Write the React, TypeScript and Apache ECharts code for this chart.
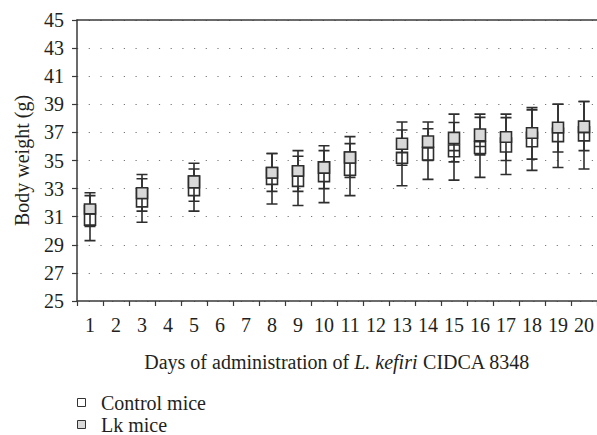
import React, { useEffect, useRef } from "react";
import * as echarts from "echarts";

const days = ["1","2","3","4","5","6","7","8","9","10","11","12","13","14","15","16","17","18","19","20"];
const yTicks = [25, 27, 29, 31, 33, 35, 37, 39, 41, 43, 45];
const seriesNames = ["Control mice", "Lk mice"];
const seriesFills = ["#ffffff", "#d9d9d9"];

// [day, min, Q1, median, Q3, max]
const controlMice: (string | number)[][] = [
  ["1", 29.3, 30.4, 31.2, 31.8, 32.5],
  ["3", 30.6, 31.7, 32.3, 33.0, 33.7],
  ["5", 31.4, 32.5, 33.06, 33.9, 34.4],
  ["8", 31.9, 33.3, 33.75, 34.5, 35.5],
  ["9", 31.8, 33.16, 33.88, 34.6, 35.3],
  ["10", 32.0, 33.5, 34.1, 34.9, 35.7],
  ["11", 32.5, 33.95, 34.82, 35.6, 36.2],
  ["13", 33.2, 34.8, 35.55, 35.58, 37.17],
  ["14", 33.66, 35.04, 35.9, 35.94, 37.26],
  ["15", 33.6, 35.27, 35.7, 36.1, 37.7],
  ["16", 33.8, 35.5, 36.0, 36.34, 38.07],
  ["17", 34.0, 35.6, 36.3, 36.6, 38.05],
  ["18", 34.3, 35.98, 36.58, 37.0, 38.6],
  ["19", 34.5, 36.34, 36.98, 37.3, 39.0],
  ["20", 34.4, 36.4, 37.0, 37.4, 39.2],
];

const lkMice: (string | number)[][] = [
  ["1", 30.3, 31.2, 31.2, 31.9, 32.7],
  ["3", 31.4, 32.3, 32.3, 33.06, 34.0],
  ["5", 32.1, 33.06, 33.06, 33.9, 34.8],
  ["8", 32.8, 33.75, 33.75, 34.5, 35.5],
  ["9", 32.8, 33.9, 33.9, 34.63, 35.7],
  ["10", 33.0, 34.1, 34.1, 34.9, 36.05],
  ["11", 33.8, 34.82, 34.82, 35.6, 36.7],
  ["13", 34.66, 35.8, 35.8, 36.58, 37.74],
  ["14", 35.0, 35.94, 35.94, 36.74, 37.74],
  ["15", 34.9, 36.2, 36.2, 37.0, 38.3],
  ["16", 35.4, 36.4, 36.4, 37.24, 38.3],
  ["17", 35.0, 36.3, 36.3, 37.05, 38.3],
  ["18", 35.1, 36.58, 36.58, 37.33, 38.76],
  ["19", 35.6, 36.98, 36.98, 37.72, 39.0],
  ["20", 35.7, 37.0, 37.0, 37.8, 39.2],
];

const FONT = "'Liberation Serif', 'DejaVu Serif', serif";
const FS = 20;
const TEXT = "#231f20";
const AXIS = "#3a3a3a";

export default function App() {
  const ref = useRef<HTMLDivElement>(null);
  useEffect(() => {
    if (!ref.current) return;
    const chart = echarts.init(ref.current, null, { renderer: "svg" });
    const legendGraphics: any[] = [];
    seriesNames.forEach((name, i) => {
      const cy = 403 + i * 22;
      legendGraphics.push({
        type: "rect",
        shape: { x: 77.5, y: cy - 4.5, width: 8, height: 8 },
        style: { fill: seriesFills[i], stroke: "#333", lineWidth: 1 },
        silent: true,
      });
      legendGraphics.push({
        type: "text",
        x: 101,
        y: cy,
        style: {
          text: name,
          font: `${FS}px ${FONT}`,
          fontFamily: FONT,
          fontSize: FS,
          fill: TEXT,
          verticalAlign: "middle",
          align: "left",
        },
        silent: true,
      });
    });
    chart.setOption({
      animation: false,
      backgroundColor: "#fff",
      grid: { left: 77, top: 20, width: 524, height: 281, containLabel: false },
      graphic: legendGraphics,
      xAxis: [
        {
          type: "category",
          data: days,
          position: "bottom",
          boundaryGap: true,
          axisLine: { show: true, lineStyle: { color: AXIS, width: 1.5 } },
          axisTick: { show: true, length: 5, inside: false, lineStyle: { color: AXIS, width: 1.2 } },
          axisLabel: { fontFamily: FONT, fontSize: FS, color: TEXT, margin: 14, interval: 0 },
          splitLine: { show: false },
          name: "Days of administration of {i|L. kefiri} CIDCA 8348",
          nameLocation: "middle",
          nameGap: 51,
          nameTextStyle: {
            fontFamily: FONT,
            fontSize: FS,
            color: TEXT,
            rich: { i: { fontFamily: FONT, fontSize: FS, color: TEXT, fontStyle: "italic" } },
          },
        },
        {
          type: "category",
          data: days,
          position: "top",
          boundaryGap: true,
          axisLine: { show: true, lineStyle: { color: AXIS, width: 1.5 } },
          axisTick: { show: false },
          axisLabel: { show: false },
          splitLine: { show: false },
        },
      ],
      yAxis: {
        type: "value",
        min: yTicks[0],
        max: yTicks[yTicks.length - 1],
        interval: 2,
        axisLine: { show: true, lineStyle: { color: AXIS, width: 1.5 } },
        axisTick: { show: true, length: 5, lineStyle: { color: AXIS, width: 1.2 } },
        axisLabel: { fontFamily: FONT, fontSize: FS, color: TEXT, margin: 13 },
        splitLine: { show: true, lineStyle: { color: "#777", width: 1.2, type: [1.2, 10.5] } },
        name: "Body weight (g)",
        nameLocation: "middle",
        nameGap: 45,
        nameTextStyle: { fontFamily: FONT, fontSize: FS, color: TEXT },
      },
      series: [
        {
          name: seriesNames[0],
          type: "boxplot",
          xAxisIndex: 0,
          boxWidth: [11, 11],
          data: controlMice,
          encode: { x: 0, y: [1, 2, 3, 4, 5] },
          itemStyle: { color: seriesFills[0], borderColor: "#2e2e2e", borderWidth: 1.6 },
        },
        {
          name: seriesNames[1],
          type: "boxplot",
          xAxisIndex: 1,
          boxWidth: [11, 11],
          data: lkMice,
          encode: { x: 0, y: [1, 2, 3, 4, 5] },
          itemStyle: { color: seriesFills[1], borderColor: "#2e2e2e", borderWidth: 1.6 },
        },
      ],
    });
    return () => chart.dispose();
  }, []);
  return <div ref={ref} style={{ width: 597, height: 435, position: "absolute", left: 0, top: 0 }} />;
}
